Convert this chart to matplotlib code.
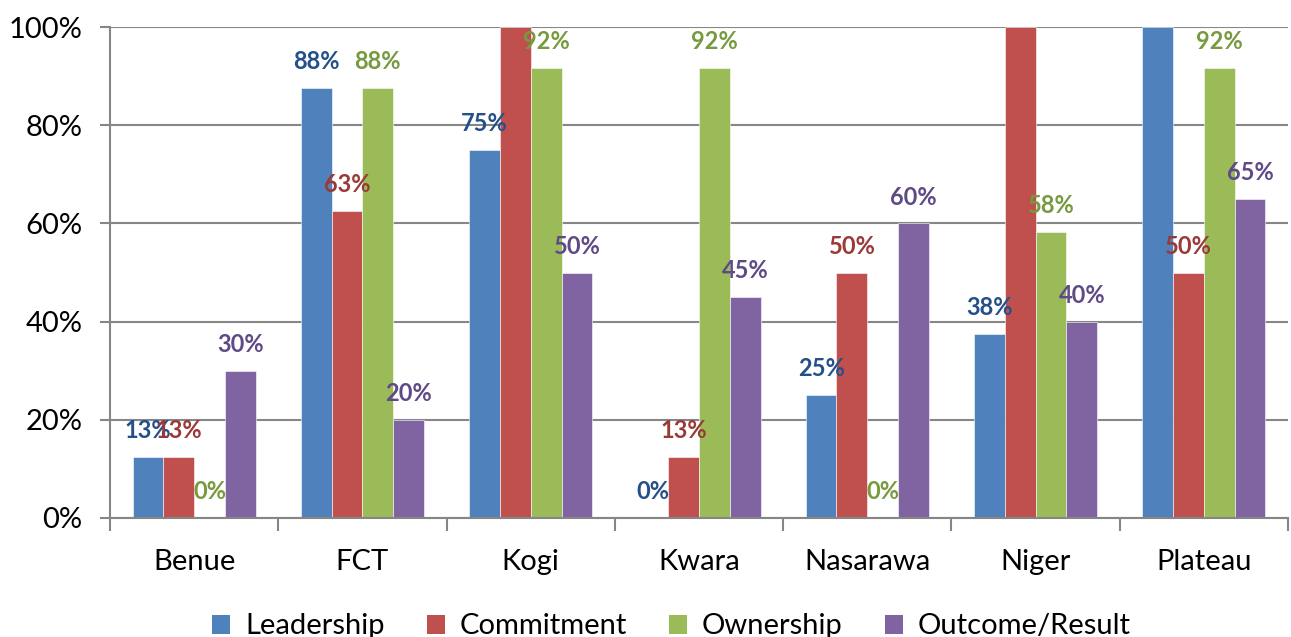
import numpy as np
import matplotlib
matplotlib.use("Agg")
from matplotlib import pyplot as plt
from matplotlib.patches import Patch

plt.rcParams['font.family'] = ['Lato', 'DejaVu Sans']

states = ['Benue', 'FCT', 'Kogi', 'Kwara', 'Nasarawa', 'Niger', 'Plateau']
series = ['Leadership', 'Commitment', 'Ownership', 'Outcome/Result']
leadership = [12.5, 87.5, 75.0, 0.0, 25.0, 37.5, 100.0]
commitment = [12.5, 62.5, 100.0, 12.5, 50.0, 100.0, 50.0]
ownership = [0.0, 87.5, 91.67, 91.67, 0.0, 58.33, 91.67]
outcome = [30.0, 20.0, 50.0, 45.0, 60.0, 40.0, 65.0]

bar_colors = ['#4F81BD', '#C0504D', '#9BBB59', '#8064A2']
text_colors = ['#24508A', '#9A3A38', '#789A3E', '#5E4A86']
grid_col = '#868686'

fig = plt.figure(figsize=(12.91, 6.37), dpi=100)
ax = fig.add_axes([110 / 1291, 119 / 637, 1178 / 1291, 491 / 637])

data = [leadership, commitment, ownership, outcome]
x = np.arange(len(states))
w = 0.183
for i, vals in enumerate(data):
    pos = x + (i - 1.5) * w
    ax.bar(pos, vals, width=w, color=bar_colors[i], edgecolor='white',
           linewidth=0.4, zorder=2)
    for p, v in zip(pos, vals):
        # labels of full bars fall outside the plot area (not shown)
        if v >= 100:
            continue
        ax.annotate('%d%%' % round(v + 1e-6), (p, v), xytext=(0, 19),
                    textcoords='offset points', ha='center', va='center',
                    fontsize=17, fontweight='bold', color=text_colors[i],
                    zorder=5)

ax.set_xlim(-0.5, len(states) - 0.5)
ax.set_ylim(0, 100)
ax.set_yticks(np.arange(0, 101, 20))
ax.set_yticklabels(['%d%%' % t for t in range(0, 101, 20)], fontsize=21)
ax.yaxis.grid(True, color=grid_col, linewidth=1.5, zorder=0)
ax.set_axisbelow(True)

ax.set_xticks(x)
ax.set_xticklabels(states, fontsize=21)
ax.set_xticks(np.arange(-0.5, len(states)), minor=True)
ax.tick_params(axis='x', which='major', length=0, pad=22)
ax.tick_params(axis='x', which='minor', length=9, width=1.5, color=grid_col)
ax.tick_params(axis='y', length=7, width=1.5, color=grid_col, pad=13)

for s in ['top', 'right']:
    ax.spines[s].set_visible(False)
for s in ['left', 'bottom']:
    ax.spines[s].set_color(grid_col)
    ax.spines[s].set_linewidth(1.5)

handles = [Patch(facecolor=c, label=l) for c, l in zip(bar_colors, series)]
fig.legend(handles=handles, loc='lower center', ncol=4, frameon=False,
           fontsize=21, bbox_to_anchor=(0.52, -0.045), handlelength=0.62,
           handleheight=0.62, handletextpad=0.5, columnspacing=1.45)

fig.savefig('out.png', dpi=100)
